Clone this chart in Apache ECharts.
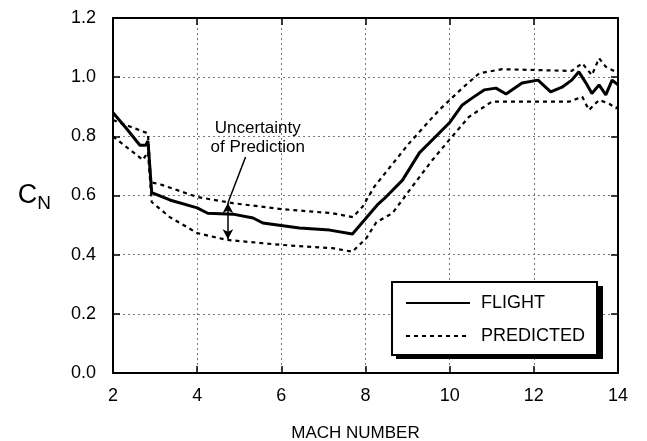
<!DOCTYPE html>
<html><head><meta charset="utf-8">
<script src="https://cdn.jsdelivr.net/npm/echarts@6/dist/echarts.min.js"></script>
<style>html,body{margin:0;padding:0;background:#fff}#c{width:647px;height:441px}</style>
</head><body><div id="c"></div>
<script>
var flightMach = [2.0,2.3,2.64,2.78,2.83,2.92,3.35,4.0,4.25,4.85,5.33,5.56,6.43,7.15,7.69,8.28,8.45,8.88,9.28,9.99,10.3,10.54,10.82,11.1,11.34,11.72,12.1,12.4,12.67,12.9,13.07,13.24,13.38,13.55,13.71,13.86,14.0];
var flightCN   = [0.88,0.83,0.77,0.77,0.785,0.61,0.585,0.558,0.54,0.537,0.524,0.507,0.49,0.483,0.47,0.568,0.59,0.652,0.744,0.845,0.906,0.93,0.957,0.963,0.943,0.98,0.99,0.95,0.966,0.99,1.018,0.98,0.945,0.974,0.94,0.99,0.974];
var upperMach = [2.0,2.83,2.9,3.16,4.0,4.85,6.0,7.22,7.7,7.93,8.21,9.04,9.75,10.3,10.7,11.25,12.9,13.15,13.38,13.55,13.71,13.95,14.0];
var upperCN   = [0.855,0.81,0.645,0.636,0.595,0.574,0.554,0.54,0.527,0.562,0.63,0.777,0.889,0.963,1.013,1.027,1.021,1.047,1.007,1.064,1.035,1.018,1.02];
var lowerMach = [2.0,2.71,2.83,2.92,3.35,4.0,4.7,6.0,7.22,7.69,8.02,8.26,8.64,9.11,9.59,9.99,10.46,11.0,12.84,13.15,13.31,13.55,13.79,13.95,14.0];
var lowerCN   = [0.8,0.72,0.747,0.578,0.527,0.473,0.45,0.433,0.422,0.41,0.456,0.51,0.54,0.63,0.72,0.788,0.866,0.917,0.917,0.934,0.889,0.923,0.91,0.895,0.9];
var xTicks = [2,4,6,8,10,12,14];
var yTicks = [0.0,0.2,0.4,0.6,0.8,1.0,1.2];

function zip(a,b){return a.map(function(v,i){return [v,b[i]];});}
var FONT = 'Liberation Sans, Arial, Helvetica, sans-serif';
var chart = echarts.init(document.getElementById('c'));
var gridLine = {show:true, lineStyle:{color:'#777', width:1, type:[2,3]}};
chart.setOption({
  animation:false,
  backgroundColor:'#fff',
  grid:{left:113, right:29, top:18, bottom:68, containLabel:false, outerBoundsMode:'none'},
  graphic:[{type:'rect', z:3, shape:{x:396, y:286, width:207, height:73}, style:{fill:'#000'}}],
  xAxis:[{
    type:'value', min:2, max:14, interval:2, position:'bottom',
    name:'MACH NUMBER', nameLocation:'middle', nameGap:52,
    nameTextStyle:{fontFamily:FONT, fontSize:17, color:'#000', padding:[0,20,0,0]},
    axisLine:{show:true, onZero:false, lineStyle:{color:'#000', width:2}},
    axisTick:{show:true, inside:true, length:7, lineStyle:{color:'#000', width:1.5}},
    axisLabel:{fontFamily:FONT, fontSize:18, color:'#000', margin:14,
      formatter:function(v){return xTicks.indexOf(v)>=0?String(v):'';}},
    splitLine:gridLine
  },{
    type:'value', min:2, max:14, interval:2, position:'top',
    axisLine:{show:true, onZero:false, lineStyle:{color:'#000', width:2}},
    axisTick:{show:true, inside:true, length:7, lineStyle:{color:'#000', width:1.5}},
    axisLabel:{show:false}, splitLine:{show:false}
  }],
  yAxis:[{
    type:'value', min:0, max:1.2, interval:0.2, position:'left',
    name:'{c|C}{n|N}', nameLocation:'middle', nameRotate:0, nameGap:62,
    nameTextStyle:{rich:{
      c:{fontFamily:FONT, fontSize:27, color:'#000', lineHeight:30},
      n:{fontFamily:FONT, fontSize:19, color:'#000', padding:[16,0,0,0]}
    }},
    axisLine:{show:true, onZero:false, lineStyle:{color:'#000', width:2}},
    axisTick:{show:true, inside:true, length:7, lineStyle:{color:'#000', width:1.5}},
    axisLabel:{fontFamily:FONT, fontSize:18, color:'#000', margin:17,
      formatter:function(v){return v.toFixed(1);}},
    splitLine:gridLine
  },{
    type:'value', min:0, max:1.2, interval:0.2, position:'right',
    axisLine:{show:true, onZero:false, lineStyle:{color:'#000', width:2}},
    axisTick:{show:true, inside:true, length:7, lineStyle:{color:'#000', width:1.5}},
    axisLabel:{show:false}, splitLine:{show:false}
  }],
  legend:{
    left:392, top:282, orient:'vertical', z:5,
    data:['FLIGHT','PREDICTED'],
    itemWidth:64, itemHeight:14, itemGap:15,
    itemStyle:{opacity:0},
    padding:[12,12,10,13],
    backgroundColor:'#fff', borderColor:'#000', borderWidth:2,
    textStyle:{fontFamily:FONT, fontSize:18, color:'#000', padding:[0,0,0,6]}
  },
  series:[
    {name:'PREDICTED', type:'line', data:zip(upperMach,upperCN), symbol:'none',
      lineStyle:{color:'#000', width:2.2, type:[4,4]}, itemStyle:{color:'#000'}},
    {name:'PREDICTED', type:'line', data:zip(lowerMach,lowerCN), symbol:'none',
      lineStyle:{color:'#000', width:2.2, type:[4,4]}, itemStyle:{color:'#000'}},
    {name:'FLIGHT', type:'line', data:zip(flightMach,flightCN), symbol:'none',
      lineStyle:{color:'#000', width:3}, itemStyle:{color:'#000'},
      markPoint:{
        symbol:'circle', symbolSize:0, silent:true,
        data:[{coord:[5.44,0.794], value:'',
          label:{show:true, position:'inside', formatter:'Uncertainty\nof Prediction',
            fontFamily:FONT, fontSize:17, lineHeight:19, color:'#000', align:'center'}}]
      },
      markLine:{
        silent:true, symbol:['arrow','arrow'], symbolSize:[8,10],
        label:{show:false},
        lineStyle:{color:'#000', width:1.5, type:'solid'},
        data:[
          [{coord:[5.15,0.73], symbol:'none'},{coord:[4.73,0.575], symbol:'none'}],
          [{coord:[4.73,0.575]},{coord:[4.73,0.452]}]
        ]
      }
    }
  ]
});
</script></body></html>
